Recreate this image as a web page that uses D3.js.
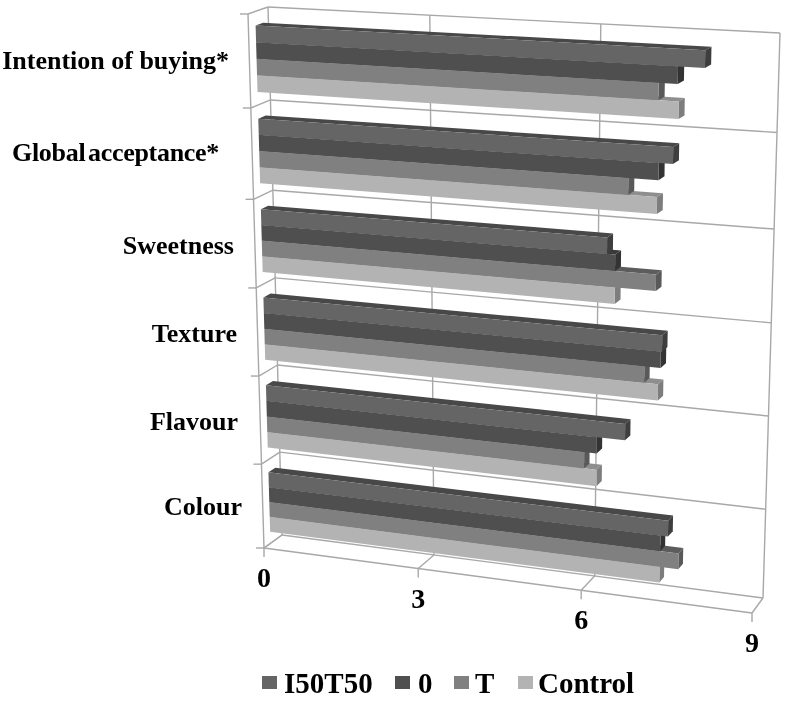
<!DOCTYPE html>
<html>
<head>
<meta charset="utf-8">
<script src="https://cdn.jsdelivr.net/npm/d3@7"></script>
<style>
  html, body { margin: 0; background: #fff; }
  svg { filter: blur(0.4px); }
  text { font-family: "Liberation Serif", serif; font-weight: bold; fill: #000; }
</style>
</head>
<body>
<svg width="786" height="701"></svg>
<script>
const categories = ["Intention of buying*", "Global acceptance*", "Sweetness", "Texture", "Flavour", "Colour"];
const seriesNames = ["I50T50", "0", "T", "Control"];

const i50t50 = [7.93, 7.42, 6.32, 7.28, 6.66, 7.43];
const zero = [7.48, 7.18, 6.46, 7.26, 6.17, 7.30];
const treated = [7.16, 6.67, 7.16, 6.98, 5.95, 7.62];
const control = [7.50, 7.16, 6.46, 7.22, 6.17, 7.29];
const seriesValues = [i50t50, zero, treated, control];

const xTicks = [0, 3, 6, 9];

const frontColors = ["#656565", "#4f4f4f", "#808080", "#b3b3b3"];
const topColors = ["#484848", "#3a3a3a", "#5c5c5c", "#8e8e8e"];
const sideColors = ["#3e3e3e", "#333333", "#595959", "#7d7d7d"];
const gridColor = "#a8a8a8";

// corners of the 3d box, as measured on the picture
const frontTL = [248, 14], frontTR = [764, 42], frontBL = [264, 548], frontBR = [752, 613];
const backTL = [268, 7], backTR = [780, 33], backBL = [282, 535], backBR = [763, 598];

const lerp = (a, b, t) => [a[0] + (b[0] - a[0]) * t, a[1] + (b[1] - a[1]) * t];

// value axis has a little perspective so the ticks are not evenly spaced
const uScale = d3.scaleLinear().domain(xTicks).range([0, 0.316, 0.65, 1]);
const vScale = d3.scaleLinear()
    .domain([0, 1, 2, 3, 4, 5, 6])
    .range([0, 0.176, 0.347, 0.513, 0.678, 0.843, 1]);
const barBand = d3.scaleBand().domain(seriesNames).range([0.15, 0.86]);

function project(value, row, depth) {
    const u = uScale(value), v = vScale(row);
    const front = lerp(lerp(frontTL, frontTR, u), lerp(frontBL, frontBR, u), v);
    const back = lerp(lerp(backTL, backTR, u), lerp(backBL, backBR, u), v);
    return lerp(front, back, depth);
}

const svg = d3.select("svg");
const line = d3.line();

function segment(a, b) {
    svg.append("path")
        .attr("d", line([a, b]))
        .attr("fill", "none")
        .attr("stroke", gridColor)
        .attr("stroke-width", 1.4);
}

// back wall, floor and left wall
categories.concat([""]).forEach((c, i) => {
    const p = project(0, i, 0);
    segment(project(0, i, 1), project(9, i, 1));
    segment(p, project(0, i, 1));
    segment(p, [p[0] - 8, p[1]]);
});
xTicks.forEach(t => {
    const p = project(t, 6, 0);
    segment(project(t, 0, 1), project(t, 6, 1));
    segment(p, project(t, 6, 1));
    segment(p, [p[0], p[1] + 9]);
});
segment(project(0, 0, 0), project(0, 6, 0));
segment(project(0, 6, 0), project(9, 6, 0));

// bars, bottom ones first so the upper bar covers the top face below it
const depthA = 0.36, depthB = 0.74;
const barH = barBand.bandwidth();

categories.forEach((c, i) => {
    const g = svg.append("g");
    seriesNames.slice().reverse().forEach(name => {
        const s = seriesNames.indexOf(name);
        const val = seriesValues[s][i];
        const r0 = i + barBand(name), r1 = r0 + barH;
        const poly = (pts, fill) => g.append("polygon")
            .attr("points", pts.map(p => p.join(",")).join(" "))
            .attr("fill", fill);
        poly([project(0, r0, depthA), project(val, r0, depthA), project(val, r0, depthB), project(0, r0, depthB)], topColors[s]);
        poly([project(val, r0, depthA), project(val, r1, depthA), project(val, r1, depthB), project(val, r0, depthB)], sideColors[s]);
        poly([project(0, r0, depthA), project(val, r0, depthA), project(val, r1, depthA), project(0, r1, depthA)], frontColors[s]);
    });
});

// category labels
const labelEnd = [229, 219, 234, 237, 238, 242];
const labelY = [60, 152, 245, 333, 421, 506];
svg.selectAll(".cat")
    .data(categories)
    .join("text")
    .attr("class", "cat")
    .attr("x", (d, i) => labelEnd[i])
    .attr("y", (d, i) => labelY[i])
    .attr("dy", "0.33em")
    .attr("text-anchor", "end")
    .attr("font-size", 26)
    .attr("word-spacing", (d, i) => i === 1 ? -3.5 : 0)
    .attr("letter-spacing", (d, i) => i === 1 ? -0.3 : 0)
    .text(d => d);

// value labels
svg.selectAll(".tick-label")
    .data(xTicks)
    .join("text")
    .attr("class", "tick-label")
    .attr("x", d => project(d, 6, 0)[0])
    .attr("y", d => project(d, 6, 0)[1] + 30)
    .attr("dy", "0.33em")
    .attr("text-anchor", "middle")
    .attr("font-size", 28)
    .text(d => d);

// legend
const legendSwatch = [262, 395, 454, 518];
const legendText = [284, 418, 475, 538];
seriesNames.forEach((name, s) => {
    svg.append("rect")
        .attr("x", legendSwatch[s]).attr("y", 676)
        .attr("width", 15).attr("height", 13)
        .attr("fill", frontColors[s]);
    svg.append("text")
        .attr("x", legendText[s]).attr("y", 683)
        .attr("dy", "0.33em")
        .attr("font-size", 29)
        .text(name);
});
</script>
</body>
</html>
